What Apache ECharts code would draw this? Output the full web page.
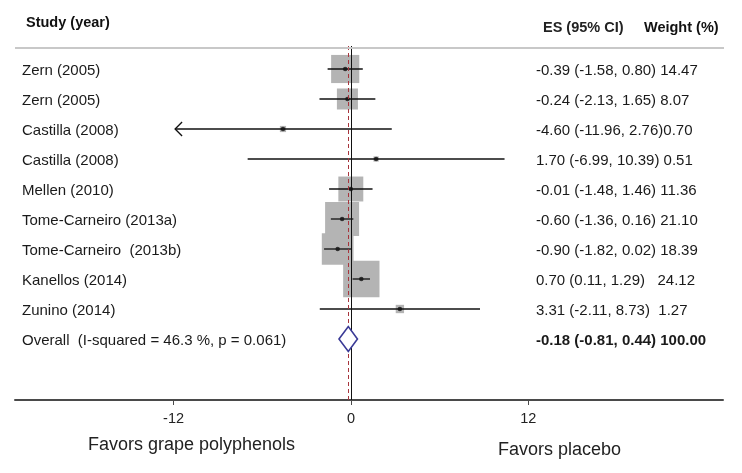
<!DOCTYPE html>
<html><head><meta charset="utf-8">
<script src="https://cdn.jsdelivr.net/npm/echarts@6/dist/echarts.min.js"></script>
<style>html,body{margin:0;padding:0;background:#fff}#c{width:742px;height:473px}</style>
</head><body><div id="c"></div>
<script>
// ---- data ----
const studies = ["Zern (2005)", "Zern (2005)", "Castilla (2008)", "Castilla (2008)", "Mellen (2010)",
  "Tome-Carneiro (2013a)", "Tome-Carneiro  (2013b)", "Kanellos (2014)", "Zunino (2014)"];
const es = [-0.39, -0.24, -4.60, 1.70, -0.01, -0.60, -0.90, 0.70, 3.31];
const ciLow = [-1.58, -2.13, -11.96, -6.99, -1.48, -1.36, -1.82, 0.11, -2.11];
const ciHigh = [0.80, 1.65, 2.76, 10.39, 1.46, 0.16, 0.02, 1.29, 8.73];
const weights = [14.47, 8.07, 0.70, 0.51, 11.36, 21.10, 18.39, 24.12, 1.27];
const esLabels = ["-0.39 (-1.58, 0.80) 14.47", "-0.24 (-2.13, 1.65) 8.07", "-4.60 (-11.96, 2.76)0.70",
  "1.70 (-6.99, 10.39) 0.51", "-0.01 (-1.48, 1.46) 11.36", "-0.60 (-1.36, 0.16) 21.10",
  "-0.90 (-1.82, 0.02) 18.39", "0.70 (0.11, 1.29)   24.12", "3.31 (-2.11, 8.73)  1.27"];
const overallName = "Overall  (I-squared = 46.3 %, p = 0.061)";
const overallES = -0.18, overallLow = -0.81, overallHigh = 0.44;
const overallLabel = "-0.18 (-0.81, 0.44) 100.00";
const xTicks = [-12, 0, 12];
const headerStudy = "Study (year)", headerES = "ES (95% CI)", headerWeight = "Weight (%)";
const favorsLeft = "Favors grape polyphenols", favorsRight = "Favors placebo";

// ---- chart ----
const FONT = '"Liberation Sans", Arial, sans-serif';
const clipMin = -11.9;
const overallRow = studies.length + 1;
const chart = echarts.init(document.getElementById('c'), null, {renderer: 'canvas'});

const ciData = studies.map((s, i) => [ciLow[i], ciHigh[i], i + 1]);
const sqData = studies.map((s, i) => [es[i], i + 1, weights[i]]);
const labelData = studies.map((s, i) => [0, i + 1, i]).concat([[0, overallRow, -1]]);

chart.setOption({
  animation: false,
  grid: {left: 15, right: 19, top: 46, bottom: 73},
  xAxis: {
    type: 'value', min: -22.73, max: 25.17,
    splitLine: {show: false},
    axisLine: {show: true, onZero: false, lineStyle: {color: '#4a4a4a', width: 2}},
    axisTick: {show: true, customValues: xTicks, length: 5, lineStyle: {color: '#4a4a4a', width: 1}},
    axisLabel: {customValues: xTicks, fontSize: 14.5, color: '#222', fontFamily: FONT, margin: 11}
  },
  yAxis: {type: 'value', inverse: true, min: 0.2333, max: 12.0333, show: false},
  graphic: [
    {type: 'text', left: 26, top: 15, style: {text: headerStudy, font: 'bold 14.5px ' + FONT, fill: '#111'}},
    {type: 'text', left: 543, top: 20, style: {text: headerES, font: 'bold 14.5px ' + FONT, fill: '#222'}},
    {type: 'text', left: 644, top: 20, style: {text: headerWeight, font: 'bold 14.5px ' + FONT, fill: '#111'}},
    {type: 'line', shape: {x1: 15, y1: 48, x2: 724, y2: 48}, style: {stroke: '#c8c8c8', lineWidth: 2}, z: 100},
    {type: 'text', left: 88, top: 436, style: {text: favorsLeft, font: '18px ' + FONT, fill: '#222'}},
    {type: 'text', left: 498, top: 441, style: {text: favorsRight, font: '18px ' + FONT, fill: '#222'}}
  ],
  series: [
    {
      type: 'scatter', name: 'weight', data: sqData, symbol: 'rect',
      symbolSize: v => 7.4 * Math.sqrt(v[2]),
      itemStyle: {color: '#b4b4b4', opacity: 1}, z: 1, silent: true
    },
    {
      type: 'custom', name: 'ci', data: ciData, z: 3, silent: true,
      encode: {x: [0, 1], y: 2},
      renderItem: (params, api) => {
        const lo = api.value(0), hi = api.value(1), row = api.value(2);
        const p1 = api.coord([Math.max(lo, clipMin), row]);
        const p2 = api.coord([hi, row]);
        const children = [{type: 'line', shape: {x1: p1[0], y1: p1[1], x2: p2[0], y2: p2[1]},
          style: {stroke: '#111', lineWidth: 1.3}}];
        if (lo < clipMin) {
          children.push({type: 'polyline', shape: {points: [[p1[0] + 7, p1[1] - 7], [p1[0], p1[1]], [p1[0] + 7, p1[1] + 7]]},
            style: {stroke: '#111', lineWidth: 1.3, fill: 'none'}});
        }
        return {type: 'group', children};
      }
    },
    {
      type: 'scatter', name: 'es', data: sqData.map(d => [d[0], d[1]]), symbol: 'circle', symbolSize: 4.5,
      itemStyle: {color: '#111'}, z: 4, silent: true,
      markLine: {
        silent: true, symbol: 'none', label: {show: false},
        data: [
          {xAxis: 0, lineStyle: {color: '#111', width: 1, type: 'solid'}},
          {xAxis: overallES, lineStyle: {color: '#a8353d', width: 1, type: [4, 3]}}
        ]
      }
    },
    {
      type: 'custom', name: 'overall', data: [[overallLow, overallES, overallHigh, overallRow]], z: 5, silent: true,
      encode: {x: [0, 2], y: 3},
      renderItem: (params, api) => {
        const row = api.value(3);
        const l = api.coord([api.value(0), row]);
        const c = api.coord([api.value(1), row]);
        const r = api.coord([api.value(2), row]);
        return {type: 'polygon', shape: {points: [[l[0], l[1]], [c[0], c[1] - 12.5], [r[0], r[1]], [c[0], c[1] + 12.5]]},
          style: {stroke: '#3a3a96', lineWidth: 1.6, fill: '#fff'}};
      }
    },
    {
      type: 'custom', name: 'labels', data: labelData, z: 6, silent: true,
      encode: {x: 0, y: 1},
      renderItem: (params, api) => {
        const row = api.value(1), idx = api.value(2);
        const y = api.coord([0, row])[1] + 1.5;
        const isOverall = idx < 0;
        return {type: 'group', children: [
          {type: 'text', style: {text: isOverall ? overallName : studies[idx], x: 22, y: y,
            font: '15px ' + FONT, fill: '#1a1a1a', verticalAlign: 'middle', align: 'left'}},
          {type: 'text', style: {text: isOverall ? overallLabel : esLabels[idx], x: 536, y: y,
            font: (isOverall ? 'bold ' : '') + '15px ' + FONT, fill: '#1a1a1a', verticalAlign: 'middle', align: 'left'}}
        ]};
      }
    }
  ]
});
</script>
</body></html>
